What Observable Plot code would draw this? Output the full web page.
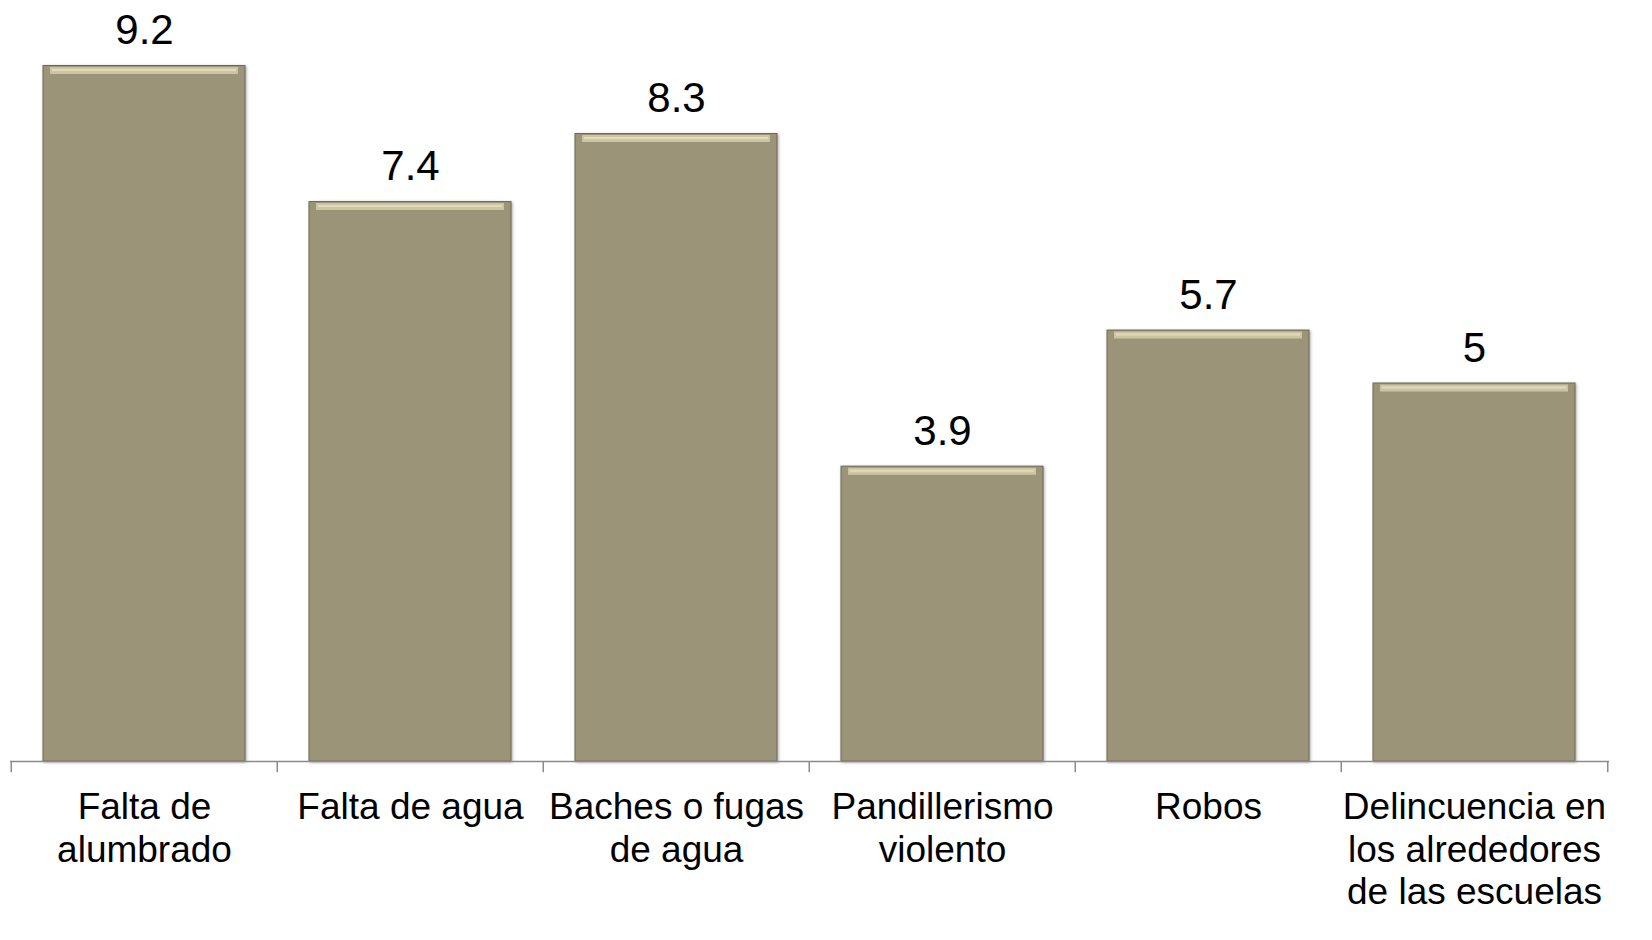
<!DOCTYPE html>
<html>
<head>
<meta charset="utf-8">
<script src="https://cdn.jsdelivr.net/npm/d3@7"></script>
<script src="https://cdn.jsdelivr.net/npm/@observablehq/plot@0.6"></script>
<style>
  html, body { margin: 0; padding: 0; background: #ffffff; }
  #chart { width: 1652px; height: 940px; overflow: hidden; }
  .bars rect { filter: drop-shadow(1.5px 1.5px 1.5px rgba(0,0,0,0.35)); }
</style>
</head>
<body>
<div id="chart"></div>
<script>
const categories = [
  "Falta de\nalumbrado",
  "Falta de agua",
  "Baches o fugas\nde agua",
  "Pandillerismo\nviolento",
  "Robos",
  "Delincuencia en\nlos alrededores\nde las escuelas"
];
const values = [9.2, 7.4, 8.3, 3.9, 5.7, 5];
const valueLabels = ["9.2", "7.4", "8.3", "3.9", "5.7", "5"];

const data = categories.map((c, i) => ({category: c, value: values[i], label: valueLabels[i]}));

const W = 1652, H = 940;
const mL = 10, mR = 43, mT = 5, mB = 179;
const step = (W - mL - mR) / categories.length;

const chart = Plot.plot({
  width: W,
  height: H,
  marginLeft: mL,
  marginRight: mR,
  marginTop: mT,
  marginBottom: mB,
  style: {fontFamily: "'Liberation Sans', Arial, sans-serif", background: "transparent", overflow: "visible"},
  x: {domain: categories, paddingInner: 0.24, paddingOuter: 0.12, axis: null},
  y: {domain: [0, 10], axis: null},
  marks: [
    Plot.barY(data, {x: "category", y: "value", fill: "#9b9478", stroke: "#6f6a54", strokeWidth: 1, className: "bars"}),
    Plot.tickY(data, {x: "category", y: "value", stroke: "#cbc5a2", strokeWidth: 7, dy: 4.5, insetLeft: 7, insetRight: 7}),
    Plot.tickY(data, {x: "category", y: "value", stroke: "#e0dbbd", strokeWidth: 2, dy: 4, insetLeft: 9, insetRight: 9}),
    Plot.ruleY([0], {stroke: "#8c8c8c", strokeWidth: 1.5}),
    Plot.ruleX(data, {x: "category", y1: 0, y2: -0.15, dx: -step / 2, stroke: "#8c8c8c", strokeWidth: 1.5}),
    Plot.ruleX([data[data.length - 1]], {x: "category", y1: 0, y2: -0.15, dx: step / 2, stroke: "#8c8c8c", strokeWidth: 1.5}),
    Plot.text(data, {x: "category", y: "value", text: "label", lineAnchor: "bottom", dy: -22, fontSize: 42, fill: "#000"}),
    Plot.text(data, {x: "category", y: 0, text: "category", lineAnchor: "top", dy: 28, fontSize: 37, lineHeight: 1.14, fill: "#000"})
  ]
});
document.getElementById("chart").appendChild(chart);
</script>
</body>
</html>
